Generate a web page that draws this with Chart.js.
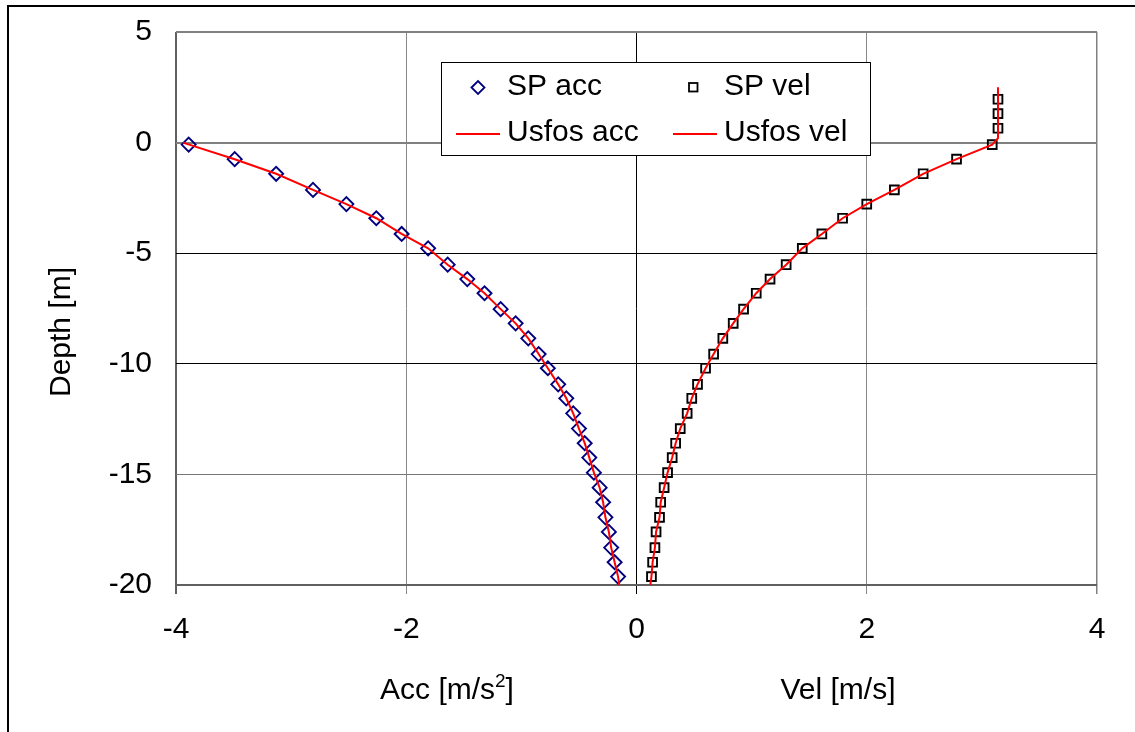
<!DOCTYPE html>
<html><head><meta charset="utf-8">
<script src="https://cdn.jsdelivr.net/npm/chart.js@4"></script>
<style>
html,body{margin:0;padding:0;background:#fff;overflow:hidden;width:1135px;height:732px;}
#frame{position:absolute;left:7px;top:5px;width:1300px;height:900px;border:2px solid #000;box-sizing:border-box;}
#c{position:absolute;left:0;top:0;}
</style></head><body>
<div id="frame"></div>
<canvas id="c" width="1135" height="732"></canvas>
<script>
// ---- data ----
const spAccDepth = [-0.09,-0.75,-1.41,-2.14,-2.78,-3.42,-4.13,-4.78,-5.52,-6.17,-6.81,-7.53,-8.17,-8.85,-9.56,-10.20,-10.93,-11.56,-12.24,-12.93,-13.59,-14.24,-14.92,-15.60,-16.26,-16.94,-17.60,-18.31,-18.97,-19.62];
const spAcc = [-3.89,-3.49,-3.13,-2.81,-2.52,-2.26,-2.04,-1.81,-1.64,-1.47,-1.32,-1.18,-1.05,-0.94,-0.85,-0.77,-0.68,-0.61,-0.55,-0.50,-0.45,-0.41,-0.37,-0.32,-0.29,-0.27,-0.24,-0.22,-0.19,-0.16];
const spVelDepth = [1.96,1.31,0.65,-0.09,-0.75,-1.41,-2.14,-2.78,-3.42,-4.13,-4.78,-5.52,-6.17,-6.81,-7.53,-8.17,-8.85,-9.56,-10.20,-10.93,-11.56,-12.24,-12.93,-13.59,-14.24,-14.92,-15.60,-16.26,-16.94,-17.60,-18.31,-18.97,-19.62];
const spVel = [3.14,3.14,3.14,3.09,2.78,2.49,2.24,2.00,1.79,1.61,1.44,1.30,1.16,1.04,0.93,0.84,0.75,0.67,0.60,0.53,0.48,0.44,0.38,0.34,0.31,0.27,0.24,0.21,0.20,0.17,0.16,0.14,0.13];
const usfosAccDepth = [0.0,-0.75,-1.41,-2.14,-2.78,-3.42,-4.13,-4.78,-5.52,-6.17,-6.81,-7.53,-8.17,-8.85,-9.56,-10.20,-10.93,-11.56,-12.24,-12.93,-13.59,-14.24,-14.92,-15.60,-16.26,-16.94,-17.60,-18.31,-18.97,-19.62,-20.0];
const usfosAcc = [-3.94,-3.49,-3.13,-2.81,-2.52,-2.26,-2.04,-1.81,-1.64,-1.47,-1.32,-1.18,-1.05,-0.94,-0.85,-0.77,-0.68,-0.61,-0.55,-0.50,-0.45,-0.41,-0.37,-0.32,-0.29,-0.27,-0.24,-0.22,-0.19,-0.16,-0.15];
const usfosVelDepth = [2.5,0.2,-0.09,-0.75,-1.41,-2.14,-2.78,-3.42,-4.13,-4.78,-5.52,-6.17,-6.81,-7.53,-8.17,-8.85,-9.56,-10.20,-10.93,-11.56,-12.24,-12.93,-13.59,-14.24,-14.92,-15.60,-16.26,-16.94,-17.60,-18.31,-18.97,-19.62,-20.0];
const usfosVel = [3.14,3.14,3.09,2.78,2.49,2.24,2.00,1.79,1.61,1.44,1.30,1.16,1.04,0.93,0.84,0.75,0.67,0.60,0.53,0.48,0.44,0.38,0.34,0.31,0.27,0.24,0.21,0.20,0.17,0.16,0.14,0.13,0.12];
const xTicks = [-4,-2,0,2,4];
const yTicks = [5,0,-5,-10,-15,-20];
const seriesNames = ['SP acc','SP vel','Usfos acc','Usfos vel'];
const yTitle = 'Depth [m]';
const accTitle = ['Acc [m/s','2',']'];
const velTitle = 'Vel [m/s]';

const FAM = '"Liberation Sans", Arial, sans-serif';
const toXY = (xs, ys) => xs.map((v,i)=>({x:v, y:ys[i]}));

const xGridColor = {'-4':'#606060','-2':'#888888','0':'#000000','2':'#888888','4':'#808080'};
const xGridW = {'-4':2,'-2':1,'0':1,'2':1,'4':1.5};
const yGridColor = {'5':'#808080','0':'#808080','-5':'#000000','-10':'#000000','-15':'#777777','-20':'#606060'};
const yGridW = {'5':2,'0':2,'-5':1,'-10':1,'-15':1,'-20':2};

function diamond(ctx,x,y,r){ctx.beginPath();ctx.moveTo(x-r,y);ctx.lineTo(x,y-r);ctx.lineTo(x+r,y);ctx.lineTo(x,y+r);ctx.closePath();ctx.stroke();}

const annot = {
  id:'annot',
  afterDraw(chart){
    const ctx = chart.ctx;
    ctx.save();
    ctx.fillStyle = '#000';
    ctx.font = '30px ' + FAM;
    // y title
    ctx.save();
    ctx.translate(62, 332);
    ctx.rotate(-Math.PI/2);
    ctx.textAlign = 'center'; ctx.textBaseline = 'middle';
    ctx.fillText(yTitle, 0, 0);
    ctx.restore();
    // x titles
    ctx.textBaseline = 'alphabetic';
    ctx.textAlign = 'left';
    const w1 = ctx.measureText(accTitle[0]).width;
    ctx.font = '19px ' + FAM;
    const w2 = ctx.measureText(accTitle[1]).width;
    ctx.font = '30px ' + FAM;
    const w3 = ctx.measureText(accTitle[2]).width;
    let sx = 447 - (w1+w2+w3)/2;
    const base = 699;
    ctx.fillText(accTitle[0], sx, base);
    ctx.font = '19px ' + FAM;
    ctx.fillText(accTitle[1], sx+w1, base-12);
    ctx.font = '30px ' + FAM;
    ctx.fillText(accTitle[2], sx+w1+w2, base);
    ctx.textAlign = 'center';
    ctx.fillText(velTitle, 838, base);
    // legend
    ctx.fillStyle = '#fff';
    ctx.fillRect(441, 62, 430, 94);
    ctx.strokeStyle = '#000'; ctx.lineWidth = 1;
    ctx.strokeRect(441.5, 62.5, 429, 93);
    ctx.fillStyle = '#000';
    ctx.textAlign = 'left'; ctx.textBaseline = 'middle';
    ctx.font = '30px ' + FAM;
    ctx.fillText(seriesNames[0], 507, 87);
    ctx.fillText(seriesNames[1], 724, 87);
    ctx.fillText(seriesNames[2], 507, 133);
    ctx.fillText(seriesNames[3], 724, 133);
    ctx.strokeStyle = '#000080'; ctx.lineWidth = 1.8;
    diamond(ctx, 478, 87.5, 6.5);
    ctx.strokeStyle = '#000'; ctx.lineWidth = 1.8;
    ctx.strokeRect(689, 83, 8.5, 8.5);
    ctx.strokeStyle = '#ff0000'; ctx.lineWidth = 2;
    ctx.beginPath(); ctx.moveTo(456,134); ctx.lineTo(500,134); ctx.stroke();
    ctx.beginPath(); ctx.moveTo(673,134); ctx.lineTo(717,134); ctx.stroke();
    ctx.restore();
  }
};

new Chart(document.getElementById('c'), {
  type:'scatter',
  data:{datasets:[
    {label:seriesNames[2], data:toXY(usfosAcc, usfosAccDepth), showLine:true, borderColor:'#ff0000', borderWidth:2, pointRadius:0, tension:0, order:1},
    {label:seriesNames[3], data:toXY(usfosVel, usfosVelDepth), showLine:true, borderColor:'#ff0000', borderWidth:2, pointRadius:0, tension:0, order:1},
    {label:seriesNames[0], data:toXY(spAcc, spAccDepth), showLine:false, pointStyle:'rectRot', pointRadius:7, pointBorderWidth:1.9, pointBorderColor:'#000080', pointBackgroundColor:'rgba(0,0,0,0)', order:2},
    {label:seriesNames[1], data:toXY(spVel, spVelDepth), showLine:false, pointStyle:'rect', pointRadius:6.2, pointBorderWidth:1.9, pointBorderColor:'#000000', pointBackgroundColor:'rgba(0,0,0,0)', order:2}
  ]},
  options:{
    responsive:false, animation:false, devicePixelRatio:1,
    layout:{padding:{left:0, right:38, top:32, bottom:0}},
    plugins:{legend:{display:false}, tooltip:{enabled:false}},
    scales:{
      x:{type:'linear', min:-4, max:4,
        afterBuildTicks(s){ s.ticks = xTicks.map(v=>({value:v})); },
        afterFit(s){ s.height = 147; s.paddingLeft = 0; s.paddingRight = 0; },
        border:{display:false},
        grid:{drawTicks:true, tickLength:9,
          color:(c)=> xGridColor[String(c.tick && c.tick.value)] || '#808080',
          lineWidth:(c)=> xGridW[String(c.tick && c.tick.value)] || 1},
        ticks:{color:'#000', padding:18, font:{family:FAM, size:30}, maxRotation:0, autoSkip:false}
      },
      y:{type:'linear', min:-20, max:5,
        afterBuildTicks(s){ s.ticks = yTicks.map(v=>({value:v})); },
        afterFit(s){ s.width = 176; s.paddingTop = 0; s.paddingBottom = 0; },
        border:{display:false},
        grid:{drawTicks:false,
          color:(c)=> yGridColor[String(c.tick && c.tick.value)] || '#808080',
          lineWidth:(c)=> yGridW[String(c.tick && c.tick.value)] || 1},
        ticks:{color:'#000', padding:24, font:{family:FAM, size:30}, autoSkip:false}
      }
    }
  },
  plugins:[annot]
});
</script>
</body></html>
